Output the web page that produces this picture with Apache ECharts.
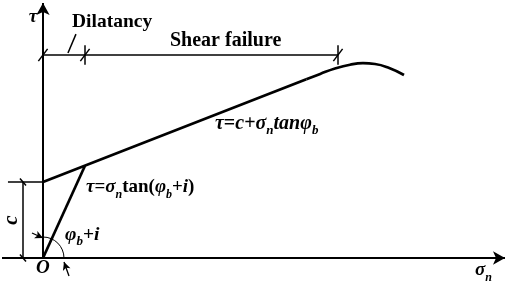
<!DOCTYPE html>
<html><head><meta charset="utf-8">
<script src="https://cdn.jsdelivr.net/npm/echarts@6/dist/echarts.min.js"></script>
<style>html,body{margin:0;padding:0;background:#fff}#c{width:505px;height:281px}</style>
</head><body><div id="c"></div>
<script>
// ---- data (arbitrary σn / τ units) ----
const xRange = [-0.887, 10];
const yRange = [-0.902, 10];
const cohesion = 2.98;
const kinkPoint = [0.909, 3.62];
const dilatancyLine = [[0, 0], kinkPoint];
const strengthLine = [[0, 2.98], [5.7, 7.008]];
const peakCurve = [[5.7, 7.008], [6.0, 7.22], [6.32, 7.43], [6.645, 7.58], [6.926, 7.64], [7.186, 7.608], [7.468, 7.47], [7.814, 7.176]];
const zoneLevel = 7.96;
const zoneBounds = [0, 0.909, 6.385];
const cDimX = -0.433;
const angleArcRadius = 0.4545;
const zoneNames = ['Dilatancy', 'Shear failure'];
const axisNames = ['τ', 'σ', 'n', 'O'];

// ---- option building ----
const FONT = 'Liberation Serif';
function rich(fs) {
  return {
    i: {fontFamily: FONT, fontStyle: 'italic', fontWeight: 'bold', fontSize: fs, lineHeight: fs + 1, color: '#000'},
    r: {fontFamily: FONT, fontWeight: 'bold', fontSize: fs, lineHeight: fs + 1, color: '#000'},
    s: {fontFamily: FONT, fontStyle: 'italic', fontWeight: 'bold', fontSize: Math.round(fs * 0.65), lineHeight: fs + 7, verticalAlign: 'bottom', color: '#000'}
  };
}
const annotations = [
  {text: '{i|' + axisNames[0] + '}', pos: [-0.216, 9.45], align: 'center', fs: 19},
  {text: '{r|' + zoneNames[0] + '}', pos: [0.628, 9.25], align: 'left', fs: 19.5},
  {text: '{r|' + zoneNames[1] + '}', pos: [2.749, 8.53], align: 'left', fs: 20},
  {text: '{i|τ}{r|=}{i|c}{r|+}{i|σ}{s|n}{i|tanφ}{s|b}', pos: [3.723, 5.25], align: 'left', fs: 20},
  {text: '{i|τ}{r|=}{i|σ}{s|n}{r|tan(}{i|φ}{s|b}{r|+}{i|i}{r|)}', pos: [0.931, 2.765], align: 'left', fs: 19},
  {text: '{i|φ}{s|b}{r|+}{i|i}', pos: [0.476, 0.922], align: 'left', fs: 19.5},
  {text: '{i|c}', pos: [-0.671, 1.49], align: 'center', fs: 21, rotation: Math.PI / 2},
  {text: '{i|' + axisNames[3] + '}', pos: [0, -0.392], align: 'center', fs: 19},
  {text: '{i|' + axisNames[1] + '}{s|' + axisNames[2] + '}', pos: [9.351, -0.49], align: 'left', fs: 19}
];
const seg = (a, b) => [{coord: a}, {coord: b}];
const thinSegs = [];
thinSegs.push(seg([0, zoneLevel], [zoneBounds[2], zoneLevel]));
zoneBounds.forEach((b, k) => {
  thinSegs.push(seg([b - 0.1, zoneLevel - 0.24], [b + 0.1, zoneLevel + 0.24]));
  if (k > 0) thinSegs.push(seg([b, zoneLevel - 0.38], [b, zoneLevel + 0.38]));
});
thinSegs.push(seg([0.541, 8.04], [0.714, 8.78]));
thinSegs.push(seg([cDimX, 0], [cDimX, cohesion]));
thinSegs.push(seg([-0.758, cohesion], [0, cohesion]));
[0, cohesion].forEach(y => thinSegs.push(seg([cDimX - 0.065, y + 0.14], [cDimX + 0.065, y - 0.14])));

const mainLine = {color: '#000', width: 2.7};
const option = {
  animation: false,
  backgroundColor: '#fff',
  grid: {left: 2, right: 0, top: 3, bottom: 0},
  xAxis: {type: 'value', min: xRange[0], max: xRange[1], show: false},
  yAxis: {type: 'value', min: yRange[0], max: yRange[1], show: false},
  series: [
    {
      type: 'line', data: strengthLine, showSymbol: false, silent: true, lineStyle: mainLine,
      markLine: {
        silent: true, symbol: ['none', 'arrow'], symbolSize: [10, 12], label: {show: false},
        lineStyle: {color: '#000', width: 2, type: 'solid'},
        data: [seg([xRange[0], 0], [xRange[1], 0]), seg([0, 0], [0, yRange[1]])]
      }
    },
    {type: 'line', data: peakCurve, smooth: 0.5, showSymbol: false, silent: true, lineStyle: mainLine},
    {
      type: 'line', data: dilatancyLine, showSymbol: false, silent: true, lineStyle: mainLine,
      markLine: {
        silent: true, symbol: 'none', label: {show: false},
        lineStyle: {color: '#000', width: 1.5, type: 'solid'},
        data: thinSegs
      }
    },
    {
      type: 'line', data: [], silent: true,
      markLine: {
        silent: true, symbol: ['none', 'arrow'], symbolSize: [6, 8], label: {show: false},
        lineStyle: {color: '#000', width: 1.3, type: 'solid'},
        data: [seg([-0.238, 0.98], [0, 0.784]), seg([0.563, -0.706], [0.455, -0.157])]
      }
    },
    {
      type: 'custom', silent: true, data: [[0, 0]],
      renderItem: (params, api) => {
        const c = api.coord([0, 0]);
        const r = api.size([angleArcRadius, 0])[0];
        return {type: 'arc', shape: {cx: c[0], cy: c[1], r: r, startAngle: -Math.PI / 2, endAngle: 0, clockwise: true},
          style: {stroke: '#000', fill: null, lineWidth: 1}};
      }
    },
    {
      type: 'custom', silent: true, data: annotations.map(a => a.pos),
      renderItem: (params, api) => {
        const a = annotations[params.dataIndex];
        const p = api.coord(a.pos);
        return {type: 'text', x: p[0], y: p[1], rotation: a.rotation || 0,
          style: {text: a.text, rich: rich(a.fs), align: a.align, verticalAlign: 'middle'}};
      }
    }
  ]
};
const chart = echarts.init(document.getElementById('c'), null, {renderer: 'canvas'});
chart.setOption(option);
</script></body></html>
